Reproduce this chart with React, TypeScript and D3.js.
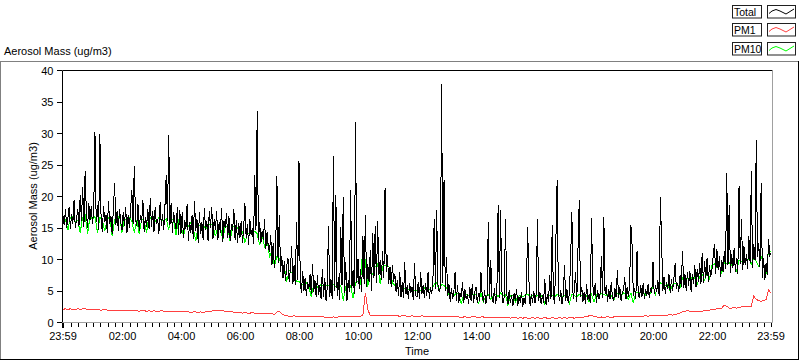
import React from 'react';
import * as d3 from 'd3';

// Total: 2.5-minute samples from 23:59 (previous day) to 23:59
const totalMass = [
  16.8, 15.4, 17.9, 15.0, 16.6, 18.2, 14.8, 17.1, 15.6, 19.4, 14.9, 16.3, 18.0, 15.2, 20.1, 16.0, 21.5, 15.1, 24.0, 17.3, 15.0, 18.9, 16.2, 18.4,
  15.6, 17.8, 30.2, 15.9, 18.6, 14.6, 29.8, 16.2, 14.3, 18.4, 15.8, 17.0, 14.2, 19.2, 15.5, 16.8, 14.0, 18.1, 22.0, 15.4, 17.6, 14.4, 18.0, 15.7,
  14.6, 17.4, 15.3, 18.2, 14.1, 16.9, 15.0, 17.8, 21.0, 15.6, 24.8, 16.4, 15.2, 18.7, 14.5, 17.0, 15.8, 19.3, 14.3, 16.6, 15.1, 18.0, 14.8, 19.6,
  15.1, 17.6, 14.3, 18.3, 15.5, 16.4, 13.9, 19.0, 15.2, 17.2, 14.6, 18.7, 23.4, 16.0, 29.7, 15.4, 18.9, 14.2, 17.5, 15.8, 14.7, 18.2, 13.8, 17.8,
  14.0, 17.5, 13.4, 16.2, 14.8, 18.8, 12.8, 15.9, 14.2, 17.0, 13.1, 19.2, 14.5, 16.3, 12.6, 17.4, 13.9, 15.8, 13.0, 18.1, 14.6, 16.0, 12.9, 17.6,
  15.0, 18.3, 13.2, 16.4, 14.6, 17.6, 13.0, 15.8, 14.1, 18.1, 12.7, 16.0, 14.9, 17.3, 13.3, 16.8, 12.8, 15.5, 14.4, 17.9, 13.0, 16.2, 12.6, 15.7,
  13.4, 16.1, 12.6, 15.0, 18.9, 13.3, 15.6, 12.2, 16.4, 13.8, 14.9, 12.4, 23.4, 14.6, 33.5, 13.0, 15.8, 12.5, 14.4, 13.1, 16.3, 11.6, 14.2, 12.0,
  11.2, 13.8, 9.0, 12.6, 8.6, 11.0, 23.2, 9.4, 17.0, 8.0, 10.4, 7.0, 9.6, 6.5, 8.8, 10.2, 6.4, 8.4, 12.0, 6.0, 9.0, 5.8, 15.9, 6.6,
  25.6, 6.2, 4.6, 8.1, 5.0, 7.0, 4.1, 6.4, 5.2, 7.6, 4.4, 9.2, 4.8, 6.6, 3.9, 7.4, 4.3, 5.8, 3.6, 8.4, 4.0, 6.9, 3.4, 5.6,
  15.3, 4.0, 6.8, 3.6, 26.3, 5.0, 20.1, 4.2, 7.2, 3.5, 15.0, 5.8, 19.9, 4.6, 9.5, 3.3, 6.6, 4.8, 21.0, 5.4, 8.2, 4.4, 31.7, 6.2,
  10.0, 5.2, 8.4, 4.8, 13.6, 6.0, 17.0, 5.6, 9.2, 6.4, 11.5, 5.0, 14.2, 7.0, 15.2, 6.2, 16.0, 7.4, 9.8, 6.6, 11.2, 7.0, 21.2, 8.0,
  10.6, 6.0, 8.8, 5.6, 9.0, 6.4, 7.6, 4.8, 6.6, 4.2, 7.9, 4.0, 6.4, 3.8, 9.5, 4.4, 5.8, 3.6, 6.2, 4.6, 5.6, 3.5, 9.4, 4.2,
  4.0, 6.4, 3.6, 7.9, 4.5, 5.8, 3.8, 6.2, 4.2, 8.0, 3.7, 5.6, 4.4, 7.0, 16.3, 5.2, 17.8, 6.0, 4.8, 5.4, 37.8, 6.2, 22.6, 5.0,
  10.3, 4.2, 6.0, 3.2, 5.4, 3.6, 4.8, 8.0, 3.4, 5.8, 3.1, 4.6, 3.9, 6.4, 3.0, 5.2, 3.6, 4.4, 2.9, 5.5, 3.3, 6.0, 3.1, 4.7,
  5.6, 3.0, 4.6, 3.4, 8.0, 4.4, 3.2, 5.0, 2.9, 4.2, 15.9, 3.6, 9.8, 4.0, 3.1, 5.4, 2.8, 4.8, 18.6, 3.8, 17.8, 5.2, 3.0, 4.0,
  16.3, 4.5, 2.8, 5.0, 3.0, 4.2, 2.5, 4.6, 3.4, 5.2, 2.6, 4.0, 3.1, 4.8, 2.4, 3.8, 2.9, 5.1, 15.0, 7.0, 2.6, 4.4, 3.0, 4.9,
  3.0, 4.6, 16.3, 3.4, 4.8, 2.8, 4.2, 3.1, 6.9, 2.7, 4.4, 3.2, 7.4, 3.6, 15.4, 4.0, 2.9, 13.0, 22.5, 4.6, 3.4, 5.0, 2.8, 4.3,
  9.0, 3.4, 5.2, 3.0, 4.6, 10.2, 17.4, 3.6, 5.0, 7.9, 3.2, 11.8, 19.4, 4.0, 5.6, 3.2, 4.8, 2.9, 6.0, 3.5, 4.4, 3.0, 16.5, 5.8,
  4.2, 6.2, 3.0, 5.0, 3.6, 4.6, 10.4, 3.8, 16.6, 4.4, 5.8, 3.2, 5.2, 3.6, 6.4, 4.0, 3.3, 5.4, 3.9, 8.2, 3.8, 5.6, 3.4, 4.8,
  5.0, 7.2, 3.6, 5.6, 4.0, 6.0, 15.4, 12.2, 4.2, 5.4, 3.6, 11.2, 4.4, 3.8, 5.8, 4.0, 6.2, 3.6, 5.2, 4.2, 6.0, 3.8, 5.4, 4.6,
  9.6, 4.4, 5.8, 4.8, 6.6, 4.2, 19.8, 12.7, 5.0, 7.2, 4.4, 6.4, 5.2, 7.6, 4.6, 6.8, 5.0, 7.0, 9.3, 5.2, 6.2, 4.8, 7.4, 5.6,
  11.3, 5.4, 7.6, 5.0, 8.0, 5.8, 8.1, 4.8, 7.6, 6.0, 9.0, 5.6, 8.4, 6.4, 9.4, 6.0, 11.0, 6.2, 9.6, 7.0, 10.2, 6.4, 9.0, 7.2,
  8.4, 10.6, 12.4, 7.6, 11.6, 8.2, 10.4, 7.2, 9.8, 8.0, 11.2, 8.4, 23.7, 9.0, 18.6, 7.8, 10.8, 8.6, 11.8, 8.0, 10.2, 7.6, 21.6, 9.2,
  16.3, 8.2, 12.0, 9.0, 10.8, 8.4, 13.6, 9.4, 24.0, 8.6, 12.4, 9.8, 28.9, 10.4, 12.6, 8.8, 22.1, 7.0, 10.2, 6.6, 9.4, 7.4, 13.2, 10.6, 11.0,
];

// PM10: 5-minute samples
const pm10Mass = [
  16.4, 16.2, 14.6, 16.6, 16.8, 16.0, 16.2, 14.2, 16.6, 17.0, 14.0, 16.8,
  16.2, 16.8, 14.2, 16.6, 16.2, 14.4, 16.4, 16.6, 13.6, 16.2, 16.4, 16.8,
  14.2, 16.4, 16.2, 16.6, 16.0, 14.2, 16.2, 14.0, 16.4, 16.0, 14.2, 17.0,
  16.2, 16.4, 15.8, 16.6, 16.2, 16.0, 16.4, 14.6, 16.6, 16.0, 13.8, 16.2,
  15.4, 13.6, 15.6, 15.2, 15.8, 15.0, 12.8, 15.4, 15.2, 15.4, 14.8, 15.2,
  15.6, 15.4, 13.6, 15.2, 15.2, 13.0, 15.4, 15.0, 12.8, 15.2, 15.2, 15.0,
  14.2, 14.4, 12.6, 14.0, 14.2, 14.2, 14.4, 14.0, 12.2, 14.0, 11.8, 13.2,
  10.4, 11.2, 8.8, 10.4, 10.0, 9.2, 8.8, 6.4, 8.2, 7.8, 7.6, 6.4,
  6.4, 6.0, 5.8, 6.2, 5.6, 4.0, 6.0, 5.8, 5.4, 6.0, 5.6, 5.8,
  5.8, 5.4, 6.0, 5.6, 5.4, 5.8, 3.4, 5.6, 6.0, 5.8, 3.8, 6.2,
  6.4, 6.0, 12.4, 9.6, 5.6, 8.4, 7.6, 8.8, 9.2, 6.0, 8.8, 9.0,
  9.0, 8.6, 6.2, 5.8, 5.4, 5.6, 5.2, 5.4, 5.0, 5.2, 5.4, 5.0,
  5.0, 5.2, 4.8, 5.4, 5.0, 5.2, 5.0, 6.0, 6.2, 5.0, 6.0, 5.8,
  5.4, 4.4, 4.6, 4.2, 4.6, 4.4, 2.8, 4.4, 4.4, 4.2, 4.6, 4.4,
  4.4, 2.8, 4.6, 3.2, 4.2, 4.4, 3.6, 4.2, 4.4, 4.0, 4.6, 4.2,
  4.4, 2.6, 4.2, 4.2, 3.2, 4.0, 4.2, 4.0, 4.2, 4.4, 4.0, 4.2,
  4.0, 4.2, 4.0, 4.2, 2.8, 4.0, 4.2, 4.2, 4.0, 4.4, 4.2, 4.0,
  4.2, 4.0, 3.0, 4.4, 4.2, 4.0, 4.4, 4.2, 4.0, 4.2, 3.2, 4.4,
  3.2, 4.4, 4.2, 4.6, 4.4, 4.2, 4.4, 4.2, 3.4, 4.4, 4.6, 4.2,
  4.6, 4.4, 3.6, 4.6, 3.0, 4.6, 4.8, 4.6, 4.8, 4.2, 4.8, 4.6,
  5.8, 4.4, 5.8, 6.2, 6.0, 5.8, 6.0, 4.8, 6.0, 6.2, 6.0, 5.4,
  7.0, 6.8, 7.0, 6.6, 7.2, 7.0, 6.0, 7.2, 7.6, 6.6, 7.8, 6.8,
  9.0, 9.2, 8.6, 9.0, 7.8, 9.4, 9.2, 9.4, 9.0, 9.6, 8.0, 9.8,
  9.6, 10.2, 9.8, 10.0, 9.2, 10.2, 9.6, 8.8, 10.4, 9.2, 7.6, 11.4, 11.2,
];

// PM1: 5-minute samples
const pm1Mass = [
  2.0, 2.1, 2.0, 2.1, 2.0, 2.0, 2.1, 2.0, 2.1, 2.1, 2.0, 2.0,
  2.0, 1.9, 2.0, 1.9, 1.9, 2.0, 1.9, 1.9, 1.8, 1.9, 1.9, 1.8,
  1.8, 1.9, 1.8, 1.8, 1.9, 1.8, 1.8, 1.7, 1.8, 1.8, 1.7, 1.8,
  1.7, 1.8, 1.7, 1.7, 1.8, 1.7, 1.7, 1.6, 1.7, 1.7, 1.6, 1.7,
  1.6, 1.7, 1.6, 1.6, 1.5, 1.6, 1.6, 1.5, 1.6, 1.5, 1.6, 1.6,
  1.7, 1.8, 1.9, 1.9, 1.8, 1.8, 1.7, 1.7, 1.6, 1.6, 1.5, 1.5,
  1.5, 1.4, 1.5, 1.4, 1.4, 1.5, 1.4, 1.4, 1.4, 1.3, 1.4, 1.3,
  1.3, 1.3, 1.2, 1.6, 1.7, 1.3, 1.1, 1.0, 0.9, 0.9, 1.0, 0.9,
  0.9, 0.9, 0.8, 0.9, 0.9, 0.8, 0.8, 0.9, 0.8, 0.8, 0.8, 0.7,
  0.7, 0.7, 0.8, 0.7, 0.8, 0.8, 0.9, 0.8, 0.9, 0.9, 0.8, 0.9,
  0.9, 0.9, 1.1, 4.6, 2.0, 1.0, 1.0, 1.1, 1.0, 1.0, 1.1, 1.0,
  1.0, 1.0, 1.1, 1.0, 1.0, 0.9, 1.0, 1.0, 0.9, 0.9, 1.0, 0.9,
  0.9, 0.9, 1.0, 0.9, 0.9, 0.8, 0.9, 0.9, 0.8, 0.9, 0.8, 0.8,
  0.8, 0.8, 0.9, 0.8, 0.8, 0.8, 0.7, 0.8, 0.8, 0.7, 0.8, 0.8,
  0.8, 0.7, 0.8, 0.8, 0.7, 0.7, 0.8, 0.7, 0.7, 0.8, 0.7, 0.7,
  0.7, 0.7, 0.6, 0.7, 0.7, 0.6, 0.7, 0.6, 0.7, 0.6, 0.6, 0.7,
  0.6, 0.7, 0.6, 0.6, 0.7, 0.6, 0.6, 0.7, 0.6, 0.6, 0.7, 0.6,
  0.7, 0.6, 0.7, 0.7, 0.6, 0.7, 0.7, 0.7, 0.8, 0.8, 1.0, 1.1,
  0.9, 0.8, 0.7, 0.8, 0.7, 0.8, 0.8, 0.7, 0.8, 0.8, 0.8, 0.8,
  0.8, 0.9, 0.8, 0.9, 0.9, 0.8, 0.9, 0.9, 0.9, 1.0, 0.9, 1.0,
  1.0, 1.0, 1.0, 1.1, 1.0, 1.1, 1.1, 1.2, 1.1, 1.2, 1.3, 1.4,
  1.6, 1.7, 1.8, 1.7, 1.6, 1.7, 1.6, 1.7, 1.7, 1.8, 1.8, 1.9,
  2.0, 2.0, 2.1, 2.1, 2.2, 2.7, 2.5, 2.2, 2.2, 2.3, 2.2, 2.3,
  2.4, 2.4, 2.5, 2.4, 2.5, 4.1, 3.6, 3.4, 3.3, 3.4, 3.6, 5.1, 4.6,
];

const yTicks = [0, 5, 10, 15, 20, 25, 30, 35, 40];
const xTickLabels = ['23:59', '02:00', '04:00', '06:00', '08:00', '10:00', '12:00', '14:00', '16:00', '18:00', '20:00', '22:00', '23:59'];
const legendNames = ['Total', 'PM1', 'PM10'];
const legendColors = ['#000000', '#ff4040', '#00ff00'];
const yTitle = 'Aerosol Mass (ug/m3)';
const xTitle = 'Time';

const FONT = '"Liberation Sans", Arial, sans-serif';

export default function App() {
  const W = 800;
  const H = 361;
  const start = new Date(2000, 0, 1, 23, 59);
  const end = new Date(2000, 0, 2, 23, 59);
  const x = d3.scaleTime().domain([start, end]).range([63, 771]);
  const y = d3.scaleLinear().domain([0, 40]).range([322, 70]);
  const lineAt = (stepSec: number) =>
    d3
      .line<number>()
      .x((_, i) => x(d3.timeSecond.offset(start, i * stepSec)))
      .y((d) => y(d));

  const minorTicks = d3.timeMinute.every(15)!.range(d3.timeMinute.offset(start, 1), end);
  const tickTimes = xTickLabels.map((lab, i) => {
    if (i === 0) return start;
    if (i === xTickLabels.length - 1) return end;
    const [hh, mm] = lab.split(':').map(Number);
    return new Date(2000, 0, 2, hh, mm);
  });

  const left = 62.5, top = 70.5, right = 772.5, bottom = 322.5;

  return (
    <svg width={W} height={H} style={{ position: 'absolute', left: 0, top: 0, background: '#fff' }} fontFamily={FONT}>
      <rect x={0} y={0} width={W} height={H} fill="#fff" />
      {/* outer frame */}
      <line x1={0} y1={61.5} x2={799} y2={61.5} stroke="#808080" />
      <line x1={0.5} y1={61} x2={0.5} y2={360} stroke="#808080" />
      <line x1={798.5} y1={61} x2={798.5} y2={360} stroke="#000" />
      <line x1={0} y1={359.5} x2={799} y2={359.5} stroke="#000" />

      {/* top-left title */}
      <text x={4} y={55} fontSize={11} fill="#000">{yTitle}</text>

      {/* legend */}
      {legendNames.map((name, i) => {
        const ty = [5.5, 23.5, 42.5][i];
        return (
          <g key={name}>
            <rect x={732.5} y={ty} width={29} height={12.5} fill="#fff" stroke="#202020" />
            <text x={734} y={ty + 10.5} fontSize={10.5} fill="#000">{name}</text>
            <rect x={767.5} y={ty} width={28} height={12.5} fill="#fff" stroke="#202020" />
            <polyline
              points={`${769},${ty + 8} ${772},${ty + 5.5} ${776},${ty + 4} ${780},${ty + 5.5} ${786},${ty + 8.5} ${790},${ty + 6} ${794},${ty + 3.5}`}
              fill="none"
              stroke={legendColors[i]}
              strokeWidth={1}
            />
          </g>
        );
      })}

      {/* plot area */}
      <defs>
        <clipPath id="plotClip">
          <rect x={left} y={top} width={right - left} height={bottom - top} />
        </clipPath>
      </defs>
      <g clipPath="url(#plotClip)">
        <path d={lineAt(300)(pm10Mass) || ''} fill="none" stroke={legendColors[2]} strokeWidth={1} shapeRendering="crispEdges" />
        <path d={lineAt(150)(totalMass) || ''} fill="none" stroke={legendColors[0]} strokeWidth={1} shapeRendering="crispEdges" />
        <path d={lineAt(300)(pm1Mass) || ''} fill="none" stroke={legendColors[1]} strokeWidth={1} shapeRendering="crispEdges" />
      </g>
      <line x1={left} y1={top} x2={right} y2={top} stroke="#000" />
      <line x1={left} y1={top} x2={left} y2={bottom} stroke="#000" />
      <line x1={left} y1={bottom} x2={right} y2={bottom} stroke="#a0a0a0" />
      <line x1={right} y1={top} x2={right} y2={bottom} stroke="#a0a0a0" />

      {/* y axis */}
      {yTicks.map((v) => (
        <g key={v}>
          <line x1={57} y1={Math.round(y(v)) + 0.5} x2={62} y2={Math.round(y(v)) + 0.5} stroke="#000" />
          <text x={53.5} y={y(v) + 4.5} fontSize={11} textAnchor="end" fill="#000">{v}</text>
        </g>
      ))}
      <text transform={`translate(37,196) rotate(-90)`} fontSize={11} textAnchor="middle" fill="#000">
        {yTitle}
      </text>

      {/* x axis */}
      {minorTicks.map((d, i) => (
        <line key={i} x1={Math.round(x(d)) + 0.5} y1={323} x2={Math.round(x(d)) + 0.5} y2={327} stroke="#000" />
      ))}
      <line x1={63} y1={323} x2={63} y2={328} stroke="#000" strokeWidth={2} />
      <line x1={771.5} y1={323} x2={771.5} y2={327} stroke="#000" />
      {tickTimes.map((d, i) => (
        <text key={i} x={x(d)} y={339.5} fontSize={11} textAnchor="middle" fill="#000">
          {xTickLabels[i]}
        </text>
      ))}
      <text x={(x(start) + x(end)) / 2} y={355} fontSize={11} textAnchor="middle" fill="#000">{xTitle}</text>
    </svg>
  );
}
